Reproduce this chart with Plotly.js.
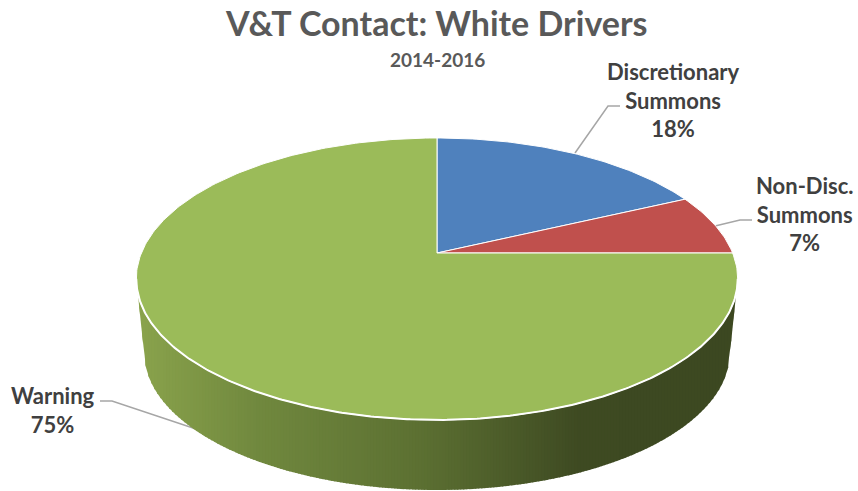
<!DOCTYPE html>
<html>
<head>
<meta charset="utf-8">
<script src="https://cdn.plot.ly/plotly-3.0.1.min.js"></script>
<style>
  html, body { margin: 0; padding: 0; background: #fff; }
  #chart { width: 858px; height: 491px; }
</style>
</head>
<body>
<div id="chart"></div>
<script>
const categories = ["Discretionary<br>Summons", "Non-Disc.<br>Summons", "Warning"];
const shares = [18, 7, 75];
const sliceColors = ["#4f81bd", "#c0504d", "#9bbb59"];
const chartTitle = "V&T Contact: White Drivers";
const chartSubtitle = "2014-2016";

// =========================
// PIE TILT (axes are in screen pixels)
// =========================

const cx = 437, cy = 253;
const radiusX = 295.6, radiusY = 136.2;
const tilt = 0.184;

// bottom rim of the disc
const rimCy = 327, rimX = 288, rimY = 133;

// wall shading by screen x
const wallStops = [
  [137, [138, 163, 76]],
  [260, [112, 136, 62]],
  [420, [92, 112, 50]],
  [580, [62, 74, 34]],
  [740, [60, 72, 33]]
];

function topPoint(a) {
  let u = Math.sin(a), v = Math.cos(a), d = 1 + tilt * v;
  return [cx + radiusX * u / d, cy - radiusY * v / d];
}

function rimPoint(a) {
  let u = Math.sin(a), v = Math.cos(a), d = 1 + tilt * v;
  return [cx + rimX * u / d, rimCy - rimY * v / d];
}

function wallColor(x) {
  for (let i = 1; i < wallStops.length; i++) {
    if (x <= wallStops[i][0]) {
      let a = wallStops[i - 1], b = wallStops[i];
      let t = Math.max(0, (x - a[0]) / (b[0] - a[0]));
      let c = a[1].map((n, k) => Math.round(n + (b[1][k] - n) * t));
      return `rgb(${c[0]},${c[1]},${c[2]})`;
    }
  }
  return "rgb(60,72,33)";
}

function area(xs, ys, color, lineColor, lineWidth) {
  return {
    x: xs, y: ys, type: "scatter", mode: "lines", fill: "toself",
    fillcolor: color, line: { color: lineColor, width: lineWidth },
    hoverinfo: "skip", showlegend: false
  };
}

function path(points, color, width) {
  return {
    x: points.map(p => p[0]), y: points.map(p => p[1]),
    type: "scatter", mode: "lines", line: { color: color, width: width },
    hoverinfo: "skip", showlegend: false
  };
}

// y of a polyline at screen x (points run from right to left)
function yAt(points, x) {
  for (let i = 1; i < points.length; i++) {
    let a = points[i - 1], b = points[i];
    if (x <= a[0] && x >= b[0]) {
      let t = a[0] === b[0] ? 0 : (x - a[0]) / (b[0] - a[0]);
      return a[1] + (b[1] - a[1]) * t;
    }
  }
  return points[x > points[0][0] ? 0 : points.length - 1][1];
}

let traces = [];

// =========================
// LEADER LINES
// =========================

const leaders = [
  [[575, 153], [608, 106], [620, 106]],
  [[715, 226], [740, 220], [752, 220]],
  [[205, 432], [112, 401], [100, 401]]
];
leaders.forEach(l => traces.push(path(l, "#a6a6a6", 1.5)));

// =========================
// WALL
// =========================

const edgeAngle = Math.acos(-tilt);
const wallStart = edgeAngle;
const wallEnd = 2 * Math.PI - edgeAngle;
const arcSteps = 300;

let topArc = [], rimArc = [];
for (let i = 0; i <= arcSteps; i++) {
  let a = wallStart + (wallEnd - wallStart) * i / arcSteps;
  topArc.push(topPoint(a));
  rimArc.push(rimPoint(a));
}
// the outline closes up to the widest points of the top
rimArc = [topArc[0]].concat(rimArc, [topArc[arcSteps]]);

const leftX = topArc[arcSteps][0], rightX = topArc[0][0];
const stripWidth = 3;

// vertical strips, each one overlapped by the next so no seams show
for (let x = leftX; x < rightX; x += stripWidth) {
  let x1 = Math.min(x + stripWidth + 1, rightX);
  let xs = [x, x1, x1, x];
  let ys = [yAt(topArc, x), yAt(topArc, x1), yAt(rimArc, x1), yAt(rimArc, x)];
  traces.push(area(xs, ys, wallColor(x + stripWidth / 2), "rgba(0,0,0,0)", 0));
}

// =========================
// TOP SLICES
// =========================

const total = shares.reduce((a, b) => a + b, 0);
let running = 0;

shares.forEach((share, s) => {
  let from = running / total * 2 * Math.PI;
  running += share;
  let to = running / total * 2 * Math.PI;
  let xs = [cx], ys = [cy];
  let steps = Math.ceil(share * 4);
  for (let i = 0; i <= steps; i++) {
    let p = topPoint(from + (to - from) * i / steps);
    xs.push(p[0]);
    ys.push(p[1]);
  }
  xs.push(cx);
  ys.push(cy);
  traces.push(area(xs, ys, sliceColors[s], "#ffffff", 1));
});

// white edge where the top meets the wall
traces.push(path(topArc, "#ffffff", 2));

// =========================
// LABELS
// =========================

const labelX = [673, 805, 53];
const labelY = [100, 214, 410];

const annotations = categories.map((c, i) => ({
  x: labelX[i], y: labelY[i], xref: "x", yref: "y",
  text: `${c}<br>${shares[i]}%`,
  showarrow: false, align: "center",
  font: { family: "Lato, sans-serif", size: 22, weight: 700, color: "#404040" }
}));

annotations.push({
  x: 437, y: 59, xref: "x", yref: "y",
  text: chartSubtitle, showarrow: false,
  font: { family: "Lato, sans-serif", size: 19, weight: 700, color: "#595959" }
});

Plotly.newPlot("chart", traces, {
  width: 858,
  height: 491,
  margin: { l: 0, r: 0, t: 0, b: 0 },
  paper_bgcolor: "#ffffff",
  plot_bgcolor: "#ffffff",
  showlegend: false,
  title: {
    text: chartTitle,
    x: 0.509, xanchor: "center",
    y: 0.95, yanchor: "middle",
    font: { family: "Lato, sans-serif", size: 34, weight: 700, color: "#595959" }
  },
  xaxis: { range: [0, 858], visible: false, fixedrange: true },
  yaxis: { range: [491, 0], visible: false, fixedrange: true },
  annotations: annotations
}, { displayModeBar: false });
</script>
</body>
</html>
